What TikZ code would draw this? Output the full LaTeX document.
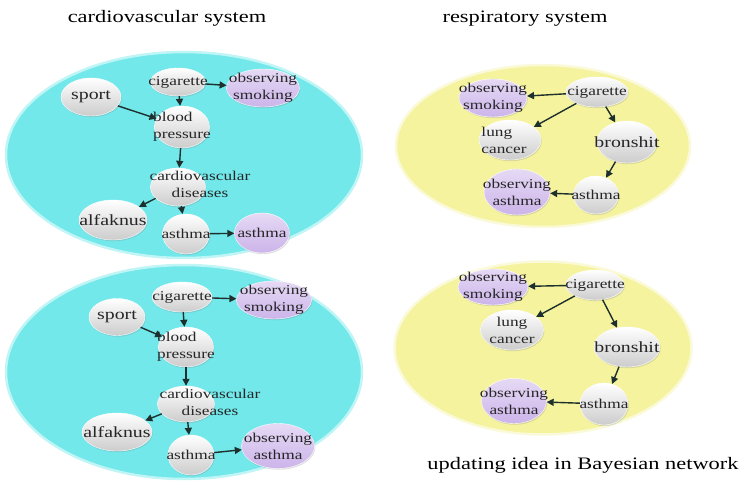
\documentclass[tikz,border=0pt]{standalone}
\usepackage{fontspec}
\setmainfont{Liberation Serif}[FakeStretch=1.28]
\usetikzlibrary{shapes.geometric,arrows.meta,shadows}
\definecolor{cardiocyan}{RGB}{114,232,235}
\definecolor{respyellow}{RGB}{245,243,158}
\definecolor{obsviolet}{RGB}{204,180,234}
\definecolor{linkgray}{RGB}{30,48,46}

\begin{document}
\begin{tikzpicture}
  [x=1pt,y=-1pt,
   system/.style={ellipse,inner sep=0,line width=2.5pt},
   cardio/.style={system,fill=cardiocyan,draw=cardiocyan!45!white},
   resp/.style={system,fill=respyellow,draw=respyellow!40!white},
   var/.style={ellipse,inner sep=0,top color=white,bottom color=black!20,draw=white,
               drop shadow={shadow xshift=0.8pt,shadow yshift=-1.2pt,opacity=0.25}},
   obs/.style={var,top color=obsviolet!50!white,bottom color=obsviolet},
   every label/.style={inner sep=0,align=center,text=black!85,font=\fontsize{13.5}{17}\selectfont},
   big/.style={font=\fontsize{15.5}{18}\selectfont},
   title/.style={anchor=base,font=\fontsize{17.5}{20}\selectfont},
   link/.style={line width=1.4pt,draw=linkgray,-{Triangle[length=7pt,width=7pt]}}]
  \useasboundingbox (0,0) rectangle (740,486);
  % titles
  \node[title] (cardiotitle) at (167,23) {cardiovascular system};
  \node[title] (resptitle) at (525,23) {respiratory system};
  \node[title] (caption) at (583,470) {updating idea in Bayesian network};
  % systems
  \node[cardio,minimum width=356,minimum height=206] (cardioA) at (184,155) {};
  \node[cardio,minimum width=356,minimum height=214] (cardioB) at (184,372) {};
  \node[resp,minimum width=294,minimum height=162] (respA) at (543,146) {};
  \node[resp,minimum width=297,minimum height=173] (respB) at (543,348) {};
  % cardiovascular system, before
  \node[var,minimum width=55,minimum height=28,label=center:cigarette] (cigA) at (178,82) {};
  \node[obs,minimum width=73,minimum height=38,label={center:observing\\smoking}] (smokeA) at (263,88) {};
  \node[var,minimum width=60,minimum height=38,label={[big]center:sport}] (sportA) at (91,97) {};
  \node[var,minimum width=55,minimum height=42,label={[align=left]center:blood\\pressure}] (bpA) at (182,127) {};
  \node[var,minimum width=55,minimum height=38,label={[xshift=22pt,yshift=3pt]center:cardiovascular\\diseases}] (cvdA) at (178,187) {};
  \node[var,minimum width=68,minimum height=40,label={[big]center:alfaknus}] (alfA) at (113,220) {};
  \node[var,minimum width=47,minimum height=40,label=center:asthma] (asthA) at (186,234) {};
  \node[obs,minimum width=55,minimum height=40,label=center:asthma] (obsasthA) at (262,233) {};
  \draw[link] (cigA) to (smokeA);
  \draw[link] (cigA) to (bpA);
  \draw[link] (sportA) to (bpA);
  \draw[link] (bpA) to (cvdA);
  \draw[link] (cvdA) to (alfA);
  \draw[link] (cvdA) to (asthA);
  \draw[link] (asthA) to (obsasthA);
  % cardiovascular system, after
  \node[var,minimum width=60,minimum height=30,label=center:cigarette] (cigB) at (182,297) {};
  \node[obs,minimum width=75,minimum height=38,label={center:observing\\smoking}] (smokeB) at (274,300) {};
  \node[var,minimum width=56,minimum height=37,label={[big]center:sport}] (sportB) at (117,317) {};
  \node[var,minimum width=55,minimum height=40,label={[align=left]center:blood\\pressure}] (bpB) at (186,347) {};
  \node[var,minimum width=57,minimum height=36,label={[xshift=24pt,yshift=2pt]center:cardiovascular\\diseases}] (cvdB) at (186,404) {};
  \node[var,minimum width=70,minimum height=38,label={[big]center:alfaknus}] (alfB) at (117,432) {};
  \node[var,minimum width=46,minimum height=40,label=center:asthma] (asthB) at (191,455) {};
  \node[obs,minimum width=73,minimum height=45,label={center:observing\\asthma}] (obsasthB) at (278,446) {};
  \draw[link] (cigB) to (smokeB);
  \draw[link] (cigB) to (bpB);
  \draw[link] (sportB) to (bpB);
  \draw[link] (bpB) to (cvdB);
  \draw[link] (cvdB) to (alfB);
  \draw[link] (cvdB) to (asthB);
  \draw[link] (asthB) to (obsasthB);
  % respiratory system, before
  \node[var,minimum width=62,minimum height=30,label=center:cigarette] (cigC) at (597,92) {};
  \node[obs,minimum width=68,minimum height=38,label={center:observing\\smoking}] (smokeC) at (493,98) {};
  \node[var,minimum width=62,minimum height=40,label={[align=left,xshift=-6pt]center:lung\\cancer}] (lungC) at (510,140) {};
  \node[var,minimum width=60,minimum height=42,label={[big]center:bronshit}] (bronC) at (627,142) {};
  \node[var,minimum width=45,minimum height=38,label=center:asthma] (asthC) at (596,195) {};
  \node[obs,minimum width=66,minimum height=46,label={center:observing\\asthma}] (obsasthC) at (517,192) {};
  \draw[link] (cigC) to (smokeC);
  \draw[link] (cigC) to (lungC);
  \draw[link] (cigC) to (bronC);
  \draw[link] (bronC) to (asthC);
  \draw[link] (asthC) to (obsasthC);
  % respiratory system, after
  \node[var,minimum width=58,minimum height=30,label=center:cigarette] (cigD) at (595,285) {};
  \node[obs,minimum width=70,minimum height=36,label={center:observing\\smoking}] (smokeD) at (493,287) {};
  \node[var,minimum width=63,minimum height=40,label={center:lung\\cancer}] (lungD) at (512,330) {};
  \node[var,minimum width=66,minimum height=40,label={[big]center:bronshit}] (bronD) at (627,347) {};
  \node[var,minimum width=48,minimum height=42,label=center:asthma] (asthD) at (604,404) {};
  \node[obs,minimum width=65,minimum height=45,label={center:observing\\asthma}] (obsasthD) at (514,401) {};
  \draw[link] (cigD) to (smokeD);
  \draw[link] (cigD) to (lungD);
  \draw[link] (cigD) to (bronD);
  \draw[link] (bronD) to (asthD);
  \draw[link] (asthD) to (obsasthD);
\end{tikzpicture}
\end{document}
